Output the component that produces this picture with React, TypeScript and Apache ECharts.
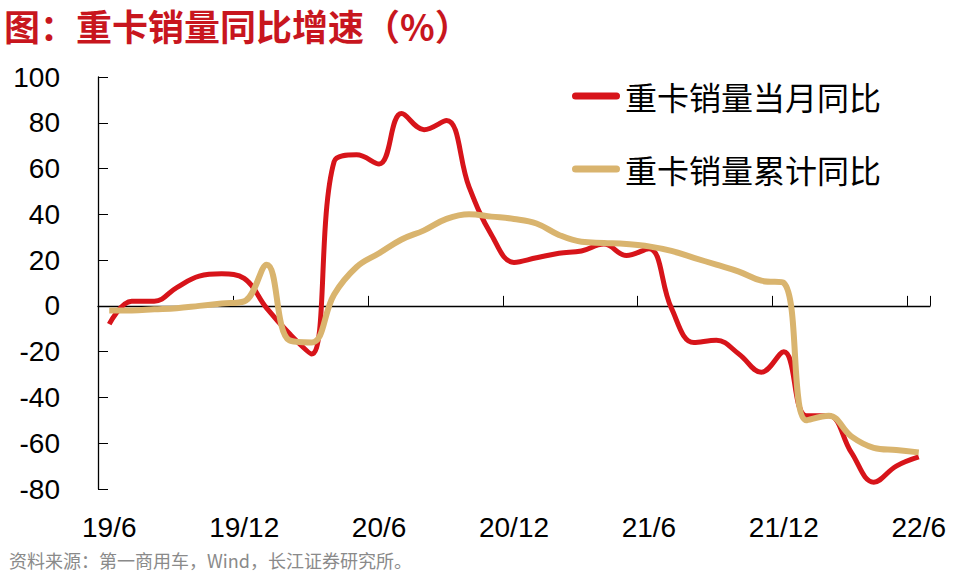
import React, { useEffect, useRef } from "react";
import * as echarts from "echarts";

const categories = [
  "19/6", "19/7", "19/8", "19/9", "19/10", "19/11", "19/12",
  "20/1", "20/2", "20/3", "20/4", "20/5", "20/6", "20/7", "20/8", "20/9", "20/10", "20/11", "20/12",
  "21/1", "21/2", "21/3", "21/4", "21/5", "21/6", "21/7", "21/8", "21/9", "21/10", "21/11", "21/12",
  "22/1", "22/2", "22/3", "22/4", "22/5", "22/6",
];

const monthlyYoY = [
  -8, 2, 2, 8, 13, 14, 12,
  -1, -12, -21, 63, 66, 62, 84, 77, 81, 52, 31, 19,
  21, 23, 24, 27, 22, 25, -1, -16, -15, -21, -29, -20,
  -48, -48, -64, -77, -70, -66,
];

const cumulativeYoY = [
  -2, -2, -1.5, -1, 0, 1, 2,
  18, -15, -16, 5, 17, 23, 29, 33, 38, 40, 39, 38,
  36, 31, 28, 27.5, 27, 26, 24, 21, 18, 15, 11, 10,
  -50, -48, -57, -62, -63, -64,
];

const seriesNames = ["重卡销量当月同比", "重卡销量累计同比"];
const titleText = "图：重卡销量同比增速（%）";
const sourceText = "资料来源：第一商用车，Wind，长江证券研究所。";

const RED = "#D7141A";
const TAN = "#D9B46E";

export default function App() {
  const ref = useRef<HTMLDivElement>(null);

  useEffect(() => {
    if (!ref.current) return;
    const chart = echarts.init(ref.current, null, { renderer: "svg" });
    const capsule =
      "path://M3.5,0 H44.5 A3.5,3.5 0 0 1 44.5,7 H3.5 A3.5,3.5 0 0 1 3.5,0 Z";
    chart.setOption({
      animation: false,
      backgroundColor: "#ffffff",
      title: [
        {
          text: titleText,
          left: 4,
          top: 5,
          padding: 0,
          textStyle: {
            color: "#C8161E",
            fontSize: 36,
            lineHeight: 40,
            fontWeight: "bold",
            fontFamily: "Noto Sans CJK SC",
          },
        },
        {
          text: sourceText,
          left: 9,
          top: 549,
          padding: 0,
          textStyle: {
            color: "#8a8a8a",
            fontSize: 18,
            lineHeight: 22,
            fontWeight: "normal",
            fontFamily: "Noto Sans CJK SC",
          },
        },
      ],
      legend: {
        orient: "vertical",
        left: 572,
        top: 76,
        padding: 0,
        itemWidth: 48,
        itemHeight: 7,
        itemGap: 33,
        icon: capsule,
        data: seriesNames,
        textStyle: {
          fontSize: 32,
          lineHeight: 40,
          color: "#000",
          fontFamily: "Noto Sans CJK SC",
        },
      },
      grid: { left: 98, right: 30, top: 77, bottom: 85, containLabel: false },
      xAxis: [
        {
          type: "category",
          data: categories,
          boundaryGap: true,
          position: "bottom",
          axisLine: { onZero: true, lineStyle: { color: "#000", width: 1.3 } },
          axisTick: { show: true, inside: true, length: 10, interval: 5, lineStyle: { color: "#000" } },
          axisLabel: { show: false },
          splitLine: { show: false },
        },
        {
          type: "category",
          data: categories,
          boundaryGap: true,
          position: "bottom",
          axisLine: { show: false, onZero: false },
          axisTick: { show: false },
          axisLabel: {
            show: true,
            interval: 5,
            margin: 24,
            fontSize: 28,
            color: "#000",
            fontFamily: "Liberation Sans",
          },
          splitLine: { show: false },
        },
      ],
      yAxis: {
        type: "value",
        min: -80,
        max: 100,
        interval: 20,
        axisLine: { show: true, lineStyle: { color: "#000", width: 1.3 } },
        axisTick: { show: true, inside: true, length: 10, lineStyle: { color: "#000" } },
        axisLabel: {
          margin: 38,
          fontSize: 28,
          color: "#000",
          fontFamily: "Liberation Sans",
        },
        splitLine: { show: false },
      },
      series: [
        {
          name: seriesNames[0],
          type: "line",
          data: monthlyYoY,
          smooth: 0.4,
          symbol: "none",
          lineStyle: { color: RED, width: 5 },
          itemStyle: { color: RED },
        },
        {
          name: seriesNames[1],
          type: "line",
          data: cumulativeYoY,
          smooth: 0.4,
          symbol: "none",
          lineStyle: { color: TAN, width: 6 },
          itemStyle: { color: TAN },
        },
      ],
    });
    return () => chart.dispose();
  }, []);

  return <div ref={ref} style={{ width: 960, height: 574, position: "fixed", left: 0, top: 0 }} />;
}
